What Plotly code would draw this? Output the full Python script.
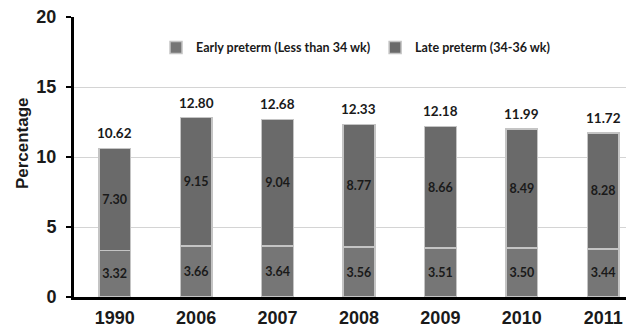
import plotly.graph_objects as go

years = ["1990", "2006", "2007", "2008", "2009", "2010", "2011"]
early = [3.32, 3.66, 3.64, 3.56, 3.51, 3.50, 3.44]
late = [7.30, 9.15, 9.04, 8.77, 8.66, 8.49, 8.28]
totals = [10.62, 12.80, 12.68, 12.33, 12.18, 11.99, 11.72]
y_ticks = [0, 5, 10, 15, 20]

bar_font = dict(family="Lato, Open Sans, sans-serif", size=12.5, color="#1a1a1a", weight="bold")
axis_font = dict(family="Liberation Sans, Arial, sans-serif", size=18, color="#1a1a1a", weight="bold")

fig = go.Figure()
fig.add_trace(go.Bar(
    x=years, y=early, name="Early preterm (Less than 34 wk)",
    marker=dict(color="#767676", line=dict(color="#c4c4c4", width=1.5)),
    text=[f"{v:.2f}" for v in early], textposition="inside",
    insidetextanchor="middle", textfont=bar_font, width=0.39,
))
fig.add_trace(go.Bar(
    x=years, y=late, name="Late preterm (34-36 wk)",
    marker=dict(color="#6a6a6a", line=dict(color="#c4c4c4", width=1.5)),
    text=[f"{v:.2f}" for v in late], textposition="inside",
    insidetextanchor="middle", textfont=bar_font, width=0.39,
))

# Total above each stacked bar (category index positions)
for i, tot in enumerate(totals):
    fig.add_annotation(
        x=i, y=tot, xref="x", yref="y", text=f"{tot:.2f}", showarrow=False,
        yanchor="bottom", yshift=5,
        font=dict(bar_font, size=13.5),
    )

# Y-axis title
fig.add_annotation(
    x=-0.094, y=0.55, xref="paper", yref="paper", text="Percentage",
    textangle=-90, showarrow=False, xanchor="center", yanchor="middle",
    font=dict(axis_font, size=17),
)

fig.update_layout(
    width=626, height=329,
    margin=dict(l=74, r=0, t=17, b=32),
    barmode="stack",
    plot_bgcolor="white", paper_bgcolor="white",
    uniformtext=dict(minsize=8, mode="show"),
    legend=dict(
        orientation="h", x=0.51, xanchor="center", y=0.89, yanchor="middle",
        font=dict(family="Lato, Open Sans, sans-serif", size=12.5, color="#1a1a1a", weight="bold"),
        traceorder="normal", itemwidth=30, bgcolor="rgba(0,0,0,0)",
    ),
    xaxis=dict(
        type="category",
        range=[-0.5, 6.28], showgrid=False, tickfont=dict(axis_font, size=18),
        showline=True, linecolor="black", linewidth=3, ticks="",
        ticklabelstandoff=2,
    ),
    yaxis=dict(
        range=[0, 20], tickvals=y_ticks, tickfont=axis_font,
        showgrid=True, gridcolor="#d4d4d4", gridwidth=1,
        showline=True, linecolor="black", linewidth=3,
        ticks="outside", ticklen=5, tickwidth=2, tickcolor="black",
        zeroline=False, ticklabelstandoff=6,
    ),
)

fig.write_html("out.html")
